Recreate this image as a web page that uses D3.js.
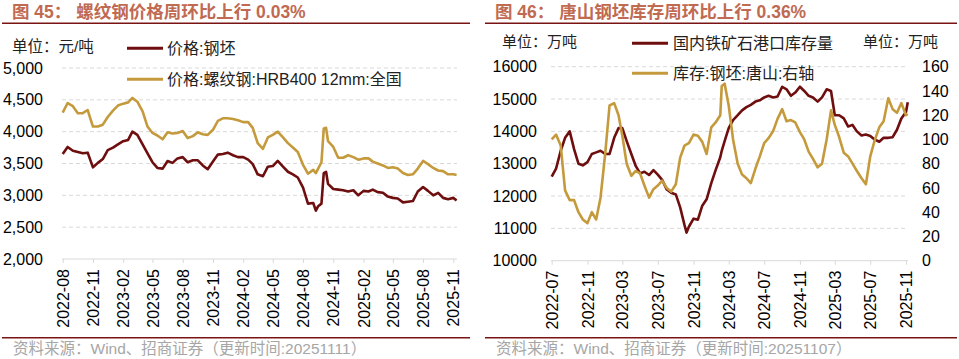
<!DOCTYPE html>
<html><head><meta charset="utf-8">
<script src="https://cdn.jsdelivr.net/npm/d3@7"></script>
<style>body{margin:0;background:#fff}svg{display:block}</style>
</head><body><svg id="c" width="959" height="359"></svg>
<script>
// ---------- Left chart data ----------
const leftDates = ["2022-08-01","2022-08-16","2022-09-01","2022-09-16","2022-10-01","2022-10-16","2022-11-01","2022-11-16","2022-12-01","2022-12-16",
"2023-01-01","2023-01-16","2023-02-01","2023-02-16","2023-03-01","2023-03-16","2023-04-01","2023-04-16","2023-05-01","2023-05-16","2023-06-01","2023-06-16","2023-07-01","2023-07-16","2023-08-01","2023-08-16","2023-09-01","2023-09-16","2023-10-01","2023-10-16","2023-11-01","2023-11-16","2023-12-01","2023-12-16",
"2024-01-01","2024-01-16","2024-02-01","2024-02-16","2024-03-01","2024-03-16","2024-04-01","2024-04-16","2024-05-01","2024-05-16","2024-06-01","2024-06-16","2024-07-01","2024-07-16","2024-08-01","2024-08-16","2024-09-01","2024-09-09","2024-09-16","2024-09-26","2024-10-03","2024-10-10","2024-10-16","2024-11-01","2024-11-16","2024-12-01","2024-12-16",
"2025-01-01","2025-01-16","2025-02-01","2025-02-16","2025-03-01","2025-03-16","2025-04-01","2025-04-16","2025-05-01","2025-05-16","2025-06-01","2025-06-16","2025-07-01","2025-07-16","2025-08-01","2025-08-16","2025-09-01","2025-09-16","2025-10-01","2025-10-16","2025-11-01","2025-11-11"];
const billetPrice = [3650,3760,3700,3680,3660,3670,3440,3510,3570,3710,
3750,3800,3850,3870,4000,3950,3800,3660,3520,3430,3420,3540,3510,3580,3600,3520,3550,3550,3470,3410,3530,3640,3650,3670,
3630,3600,3600,3560,3490,3330,3300,3450,3460,3540,3450,3370,3330,3280,3120,2870,2880,2760,2830,2870,3350,3370,3180,3100,3090,3080,3060,
3080,3000,3070,3060,3090,3050,3040,2980,2960,2950,2890,2900,2910,3060,3130,3070,3000,3040,2960,2940,2960,2920];
const rebarPrice = [4300,4450,4400,4290,4290,4340,4080,4080,4110,4230,
4330,4410,4440,4460,4530,4470,4320,4080,3980,3940,3880,3990,3970,3980,4010,3900,3930,3990,3960,3950,4030,4170,4210,4210,
4200,4180,4150,4150,4060,3820,3730,3910,3950,4000,3910,3820,3750,3680,3480,3340,3400,3350,3420,3520,4050,4060,3850,3760,3590,3590,3630,
3600,3560,3580,3580,3530,3500,3470,3430,3440,3420,3350,3320,3330,3420,3540,3490,3430,3390,3380,3330,3330,3320];
const leftTickLabels = ["2022-08","2022-11","2023-02","2023-05","2023-08","2023-11","2024-02","2024-05","2024-08","2024-11","2025-02","2025-05","2025-08","2025-11"];
const leftYTicks = [2000,2500,3000,3500,4000,4500,5000];

// ---------- Right chart data ----------
const rightDates = ["2022-07-01","2022-07-16","2022-08-01","2022-08-16","2022-09-01","2022-09-16","2022-10-01","2022-10-16","2022-11-01","2022-11-16","2022-12-01","2022-12-16",
"2023-01-01","2023-01-16","2023-02-01","2023-02-16","2023-03-01","2023-03-16","2023-04-01","2023-04-16","2023-05-01","2023-05-16","2023-06-01","2023-06-16","2023-07-01","2023-07-16","2023-08-01","2023-08-16","2023-09-01","2023-09-16","2023-10-01","2023-10-08","2023-10-16","2023-11-01","2023-11-16","2023-12-01","2023-12-16",
"2024-01-01","2024-01-16","2024-02-01","2024-02-06","2024-02-16","2024-03-01","2024-03-16","2024-04-01","2024-04-16","2024-05-01","2024-05-16","2024-06-01","2024-06-16","2024-07-01","2024-07-16","2024-08-01","2024-08-16","2024-09-01","2024-09-16","2024-10-01","2024-10-16","2024-11-01","2024-11-16","2024-12-01","2024-12-16",
"2025-01-01","2025-01-16","2025-02-01","2025-02-16","2025-03-01","2025-03-16","2025-04-01","2025-04-16","2025-05-01","2025-05-16","2025-06-01","2025-06-16","2025-07-01","2025-07-16","2025-08-01","2025-08-16","2025-09-01","2025-09-16","2025-10-01","2025-10-16","2025-11-01","2025-11-07"];
const portOreStock = [12600,12850,13400,13800,14000,13450,13000,12950,13050,13300,13350,13400,
13300,13300,13800,14100,14100,13700,13300,12930,12700,12750,12650,12800,12660,12500,12200,12100,12050,11650,11100,10870,11050,11300,11270,11700,11900,
12400,12800,13200,13400,13700,14100,14350,14500,14650,14750,14820,14920,14960,15050,15100,15050,15080,15380,15300,15100,15200,15380,15250,15100,15050,
14920,15050,15300,15250,14500,14500,14400,14150,14200,14000,13870,13900,13860,13750,13680,13800,13800,13820,14050,14400,14600,14900];
const tangshanBilletStock = [100,104,95,58,50,50,40,34,31,40,34,52,
88,128,130,120,103,80,70,74,72,62,52,59,62,66,60,57,63,85,95,96,97,104,103,98,88,
110,114,120,144,146,128,100,80,71,68,64,76,86,97,101,107,117,125,115,116,114,106,100,90,84,
77,80,100,124,112,102,89,86,80,74,68,63,86,99,110,115,134,125,122,130,120,121];
const rightTickLabels = ["2022-07","2022-11","2023-03","2023-07","2023-11","2024-03","2024-07","2024-11","2025-03","2025-07","2025-11"];
const rightYTicksL = [10000,11000,12000,13000,14000,15000,16000];
const rightYTicksR = [0,20,40,60,80,100,120,140,160];

// ---------- Styles ----------
const RED = "#6E0E0E", GOLD = "#C49A3C", RULE = "#7A1414", TITLE = "#C06A52";
const GRID = "#D9D9D9";
const NUMF = "'Liberation Sans', Arial, sans-serif";
const CJKF = "'Liberation Sans', 'Noto Sans CJK SC', sans-serif";

const parse = d3.timeParse("%Y-%m-%d");
const parseM = d3.timeParse("%Y-%m");
const svg = d3.select("#c");
svg.append("rect").attr("width",959).attr("height",359).attr("fill","#fff");

function panelFrame(x0, x1, title, source, sx) {
  svg.append("text").attr("x", sx - 1).attr("y", 18).attr("fill", TITLE)
    .attr("font-family", CJKF).attr("font-weight", "bold").attr("font-size", 17.5)
    .attr("xml:space", "preserve").style("white-space", "pre").text(title);
  svg.append("line").attr("x1", x0).attr("x2", x1).attr("y1", 23.3).attr("y2", 23.3)
    .attr("stroke", RULE).attr("stroke-width", 1.6);
  svg.append("line").attr("x1", x0).attr("x2", x1).attr("y1", 337.7).attr("y2", 337.7)
    .attr("stroke", RULE).attr("stroke-width", 1.6);
  svg.append("text").attr("x", sx).attr("y", 354).attr("fill", "#A6A6A6")
    .attr("font-family", CJKF).attr("font-size", 15.5).text(source);
}

function gridAndX(g, x, yTop, yBase, ticks, gx0, gx1, gridYs) {
  gridYs.forEach(yy => {
    g.append("line").attr("x1", gx0).attr("x2", gx1).attr("y1", yy).attr("y2", yy)
      .attr("stroke", GRID).attr("stroke-width", 1).attr("stroke-dasharray", "4,3");
  });
  g.append("line").attr("x1", gx0).attr("x2", gx1).attr("y1", yBase).attr("y2", yBase)
    .attr("stroke", GRID).attr("stroke-width", 1);
  const ax = g.append("g").attr("transform", `translate(0,${yBase})`)
    .call(d3.axisBottom(x).tickValues(ticks.map(parseM)).tickFormat(d3.timeFormat("%Y-%m")).tickSize(4));
  ax.select(".domain").remove();
  ax.selectAll(".tick line").attr("stroke", GRID);
  ax.selectAll(".tick text").attr("transform", "rotate(-90)").attr("x", -10).attr("y", 0)
    .attr("dy", "0.35em").style("text-anchor", "end")
    .attr("font-family", NUMF).attr("font-size", 16).attr("fill", "#000");
}

// ---------- Left chart ----------
(function(){
  panelFrame(2, 470, "图 45： 螺纹钢价格周环比上行 0.03%", "资料来源：Wind、招商证券（更新时间:20251111）", 13);
  const g = svg.append("g");
  const x = d3.scaleTime().domain([parse("2022-08-01"), parse("2025-11-01")]).range([62.7, 453.3]);
  const y = d3.scaleLinear().domain([2000, 5000]).range([259, 68]);
  gridAndX(g, x, 68, 259, leftTickLabels, 62, 457, leftYTicks.filter(v => v > 2000).map(y));
  const ay = g.append("g").attr("transform", "translate(43,0)")
    .call(d3.axisLeft(y).tickValues(leftYTicks).tickFormat(d3.format(",")).tickSize(0).tickPadding(0));
  ay.select(".domain").remove();
  ay.selectAll("text").attr("font-family", NUMF).attr("font-size", 16).attr("fill", "#000");

  const line = d3.line().x((d,i) => x(parse(leftDates[i]))).y(d => y(d));
  g.append("path").datum(rebarPrice).attr("d", line).attr("fill","none").attr("stroke", GOLD).attr("stroke-width", 2.6).attr("stroke-linejoin","round");
  g.append("path").datum(billetPrice).attr("d", line).attr("fill","none").attr("stroke", RED).attr("stroke-width", 2.6).attr("stroke-linejoin","round");

  svg.append("text").attr("x", 12).attr("y", 52).attr("font-family", CJKF).attr("font-size", 15.5).attr("fill","#222").text("单位：元/吨");
  svg.append("line").attr("x1",127).attr("x2",163).attr("y1",48.3).attr("y2",48.3).attr("stroke",RED).attr("stroke-width",3);
  svg.append("text").attr("x",167).attr("y",54).attr("font-family", CJKF).attr("font-size",16).attr("fill","#222").text("价格:钢坯");
  svg.append("line").attr("x1",127).attr("x2",163).attr("y1",79.3).attr("y2",79.3).attr("stroke",GOLD).attr("stroke-width",3);
  svg.append("text").attr("x",167).attr("y",85).attr("font-family", CJKF).attr("font-size",16).attr("fill","#222").text("价格:螺纹钢:HRB400 12mm:全国");
})();

// ---------- Right chart ----------
(function(){
  panelFrame(485, 957, "图 46： 唐山钢坯库存周环比上行 0.36%", "资料来源：Wind、招商证券（更新时间:20251107）", 496);
  const g = svg.append("g");
  const x = d3.scaleTime().domain([parse("2022-07-01"), parse("2025-11-01")]).range([551.7, 906]);
  const yL = d3.scaleLinear().domain([10000, 16000]).range([260.7, 66.7]);
  const yR = d3.scaleLinear().domain([0, 160]).range([260.7, 66.7]);
  gridAndX(g, x, 66.7, 260.7, rightTickLabels, 551, 908, rightYTicksL.filter(v => v > 10000).map(yL));
  const ayl = g.append("g").attr("transform", "translate(537,0)")
    .call(d3.axisLeft(yL).tickValues(rightYTicksL).tickFormat(d3.format("d")).tickSize(0).tickPadding(0));
  ayl.select(".domain").remove();
  ayl.selectAll("text").attr("font-family", NUMF).attr("font-size", 16).attr("fill", "#000");
  const ayr = g.append("g").attr("transform", "translate(922,0)")
    .call(d3.axisRight(yR).tickValues(rightYTicksR).tickFormat(d3.format("d")).tickSize(0).tickPadding(0));
  ayr.select(".domain").remove();
  ayr.selectAll("text").attr("font-family", NUMF).attr("font-size", 16).attr("fill", "#000");

  const lineL = d3.line().x((d,i) => x(parse(rightDates[i]))).y(d => yL(d));
  const lineR = d3.line().x((d,i) => x(parse(rightDates[i]))).y(d => yR(d));
  g.append("path").datum(portOreStock).attr("d", lineL).attr("fill","none").attr("stroke", RED).attr("stroke-width", 2.6).attr("stroke-linejoin","round");
  g.append("path").datum(tangshanBilletStock).attr("d", lineR).attr("fill","none").attr("stroke", GOLD).attr("stroke-width", 2.6).attr("stroke-linejoin","round");

  svg.append("text").attr("x", 502).attr("y", 47).attr("font-family", CJKF).attr("font-size", 15).attr("fill","#222").text("单位：万吨");
  svg.append("text").attr("x", 863).attr("y", 47).attr("font-family", CJKF).attr("font-size", 15).attr("fill","#222").text("单位：万吨");
  svg.append("line").attr("x1",632).attr("x2",668).attr("y1",43.3).attr("y2",43.3).attr("stroke",RED).attr("stroke-width",3);
  svg.append("text").attr("x",673).attr("y",49).attr("font-family", CJKF).attr("font-size",16).attr("fill","#222").text("国内铁矿石港口库存量");
  svg.append("line").attr("x1",632).attr("x2",668).attr("y1",73.3).attr("y2",73.3).attr("stroke",GOLD).attr("stroke-width",3);
  svg.append("text").attr("x",673).attr("y",79).attr("font-family", CJKF).attr("font-size",16).attr("fill","#222").text("库存:钢坯:唐山:右轴");
})();
</script></body></html>
